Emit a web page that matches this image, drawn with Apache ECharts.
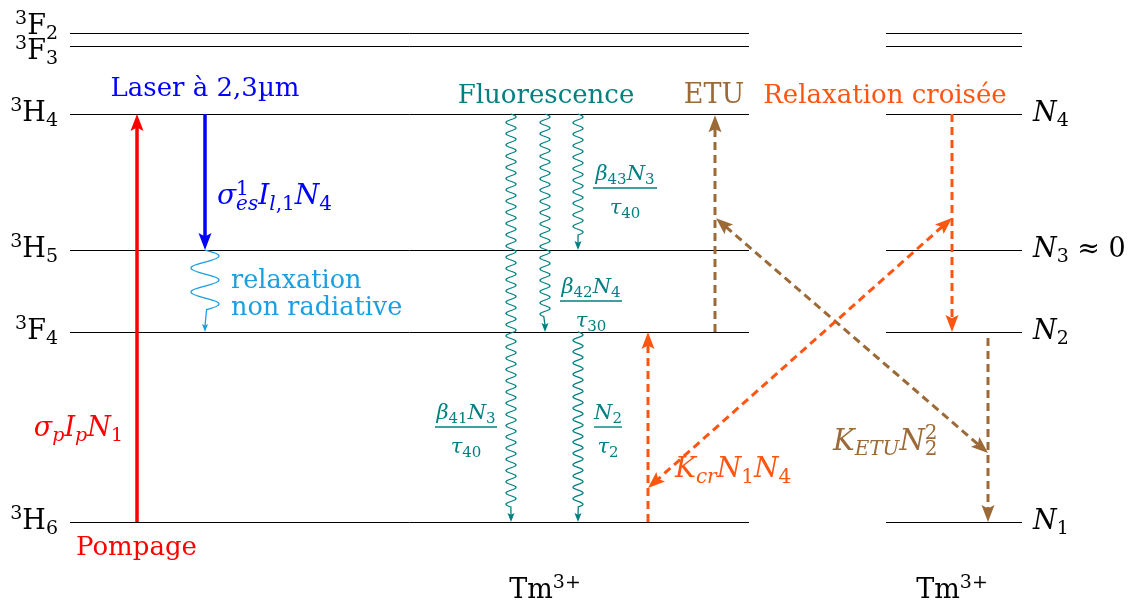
<!DOCTYPE html>
<html><head><meta charset="utf-8">
<script src="https://cdn.jsdelivr.net/npm/echarts@6/dist/echarts.min.js"></script>
<style>html,body{margin:0;padding:0;background:#fff}#c{width:1134px;height:603px}</style>
</head><body><div id="c"></div>
<script>
// ---- data (energies in cm^-1) ----
const levelNames  = ['3H6', '3F4', '3H5', '3H4', '3F3', '3F2'];
const levelEnergy = [0, 5870, 8400, 12600, 14700, 15100];
const populationNames = ['N1', 'N2', 'N3', 'N4'];
const populationEnergy = [0, 5870, 8400, 12600];
const ionName = 'Tm';
const ionCharge = '3+';

// transitions: [x, E_from, x, E_to]
const pumpArrow   = [[137, 0, 137, 12600]];
const laserArrow  = [[205, 12600, 205, 8400]];
const etuVertical = [[715, 5870, 715, 12560], [988, 5680, 988, 0]];
const etuDiagonal = [[716, 9380, 988, 2130]];
const crVertical  = [[648, 0, 648, 5870], [952, 12600, 952, 5870]];
const crDiagonal  = [[952, 9390, 648, 1050]];
// wavy transitions: [x, E_from, E_to]
const nonRadiative = [[205, 8400, 5870]];
const fluorescence = [[511, 12600, 0], [545, 12600, 5870], [578, 12600, 8400], [578, 5870, 0]];

// ---- layout ----
const panels = [[70, 749], [886, 1022]];
const levelLabelE = [0, 5870, 8400, 12600, 14515, 15287];
const SERIF = '"DejaVu Serif", serif';
const C = {red:'#ff0000', blue:'#0000ff', sky:'#1a9fe0', teal:'#008080', brown:'#9c6a37', orange:'#ff5511', black:'#000000'};

function richFor(fs, color, lh) {
  const b = {fontFamily: SERIF, color: color, textBorderWidth: 0, textBorderColor: 'transparent'};
  const s = Math.round(fs * 0.7);
  const L = lh || Math.round(fs * 1.25);
  return {
    r:  Object.assign({}, b, {fontSize: fs, lineHeight: L}),
    i:  Object.assign({}, b, {fontSize: fs, fontStyle: 'italic', lineHeight: L}),
    rs: Object.assign({}, b, {fontSize: s, verticalAlign: 'bottom', lineHeight: Math.round(fs * 0.63)}),
    is: Object.assign({}, b, {fontSize: s, fontStyle: 'italic', verticalAlign: 'bottom', lineHeight: Math.round(fs * 0.63)}),
    rp: Object.assign({}, b, {fontSize: s, verticalAlign: 'top', lineHeight: Math.round(fs * 0.59)}),
    rpz: Object.assign({}, b, {fontSize: s, verticalAlign: 'top', lineHeight: Math.round(fs * 0.59), width: 0.01})
  };
}

// annotation texts: [x, E, text, align, vAlign, fontSize, color, offsetY, lineHeight]
const texts = [];
levelNames.forEach((n, k) => texts.push([58, levelLabelE[k], `{rp|${n[0]}}{r|${n[1]}}{rs|${n[2]}}`, 'right', 'middle', 27, C.black]));
populationNames.forEach((n, k) => texts.push([1033, populationEnergy[k], `{i|${n[0]}}{rs|${n[1]}}` + (n === 'N3' ? '{r| ≈ 0}' : ''), 'left', 'middle', 27, C.black]));
texts.push(
  [205, 13372, '{r|Laser à 2,3µm}', 'center', 'middle', 26, C.blue],
  [546, 13156, '{r|Fluorescence}', 'center', 'middle', 26, C.teal],
  [714, 13156, '{r|ETU}', 'center', 'middle', 27, C.brown],
  [885, 13156, '{r|Relaxation croisée}', 'center', 'middle', 26, C.orange],
  [217, 10037, '{i|σ}{rpz|1}{is|es}{i|I}{is|l}{rs|,1}{i|N}{rs|4}', 'left', 'middle', 28, C.blue],
  [231, 7023, '{r|relaxation}\n{r|non radiative}', 'left', 'middle', 25.5, C.sky, 0, 27],
  [123, 2872, '{i|σ}{is|p}{i|I}{is|p}{i|N}{rs|1}', 'right', 'middle', 27, C.red],
  [76, -803, '{r|Pompage}', 'left', 'middle', 26, C.red],
  [675, 1606, '{i|K}{is|cr}{i|N}{rs|1}{i|N}{rs|4}', 'left', 'middle', 28, C.orange],
  [833, 2471, '{i|K}{is|ETU}{i|N}{rpz|2}{rs|2}', 'left', 'middle', 29, C.brown],
  [545, -2131, `{r|${ionName}}{rp|${ionCharge}}`, 'center', 'middle', 27, C.black],
  [952, -2131, `{r|${ionName}}{rp|${ionCharge}}`, 'center', 'middle', 27, C.black]
);
// fractions: [x1, x2, E_bar, numerator, denominator]
const fractions = [
  [593, 657, 10315, '{i|β}{rs|43}{i|N}{rs|3}', '{i|τ}{rs|40}'],
  [560, 622, 6825,  '{i|β}{rs|42}{i|N}{rs|4}', '{i|τ}{rs|30}'],
  [435, 497, 2934,  '{i|β}{rs|41}{i|N}{rs|3}', '{i|τ}{rs|40}'],
  [594, 622, 2934,  '{i|N}{rs|2}', '{i|τ}{rs|2}']
];
fractions.forEach(f => {
  const cx = (f[0] + f[1]) / 2;
  texts.push([cx, f[2], f[3], 'center', 'bottom', 21, C.teal, 0]);
  texts.push([cx, f[2], f[4], 'center', 'top', 21, C.teal, 8]);
});

// ---- drawing helpers ----
function unit(a, b) { const dx = b[0] - a[0], dy = b[1] - a[1], l = Math.hypot(dx, dy) || 1; return [dx / l, dy / l, l]; }
function headPoly(tip, u, len, wid) {
  const nx = -u[1], ny = u[0];
  const bx = tip[0] - u[0] * len, by = tip[1] - u[1] * len;
  const mx = tip[0] - u[0] * len * 0.8, my = tip[1] - u[1] * len * 0.8;
  return [[tip[0], tip[1]], [bx + nx * wid / 2, by + ny * wid / 2], [mx, my], [bx - nx * wid / 2, by - ny * wid / 2]];
}
function arrowSeries(data, st) {
  return {
    type: 'custom', coordinateSystem: 'cartesian2d', data: data, silent: true, z: 3,
    encode: {x: [0, 2], y: [1, 3]},
    renderItem: function (params, api) {
      const p1 = api.coord([api.value(0), api.value(1)]);
      const p2 = api.coord([api.value(2), api.value(3)]);
      const u = unit(p1, p2);
      const s = st.both ? [p1[0] + u[0] * st.len * 0.75, p1[1] + u[1] * st.len * 0.75] : p1;
      const e = [p2[0] - u[0] * st.len * 0.75, p2[1] - u[1] * st.len * 0.75];
      const ls = {stroke: st.color, lineWidth: st.width, fill: null};
      if (st.dash) ls.lineDash = st.dash;
      const ch = [{type: 'line', shape: {x1: s[0], y1: s[1], x2: e[0], y2: e[1]}, style: ls}];
      ch.push({type: 'polygon', shape: {points: headPoly(p2, u, st.len, st.wid)}, style: {fill: st.color}});
      if (st.both) ch.push({type: 'polygon', shape: {points: headPoly(p1, [-u[0], -u[1]], st.len, st.wid)}, style: {fill: st.color}});
      return {type: 'group', children: ch};
    }
  };
}
function waveSeries(data, st) {
  return {
    type: 'custom', coordinateSystem: 'cartesian2d', data: data, silent: true, z: 3,
    encode: {x: 0, y: [1, 2]},
    renderItem: function (params, api) {
      const p1 = api.coord([api.value(0), api.value(1)]);
      const p2 = api.coord([api.value(0), api.value(2)]);
      const total = p2[1] - p1[1];
      const waveLen = total - st.len - st.tail;
      const halves = Math.max(1, Math.round(2 * waveLen / st.period));
      const per = 2 * waveLen / halves;
      const pts = [];
      for (let t = 0; t <= waveLen + 0.01; t += 0.5) pts.push([p1[0] + st.amp * Math.sin(2 * Math.PI * t / per), p1[1] + t]);
      pts.push([p1[0], p2[1] - st.len * 0.75]);
      return {type: 'group', children: [
        {type: 'polyline', shape: {points: pts}, style: {stroke: st.color, lineWidth: st.width, fill: null}},
        {type: 'polygon', shape: {points: headPoly(p2, [0, 1], st.len, st.wid)}, style: {fill: st.color}}
      ]};
    }
  };
}

// level lines
const levelRows = [];
panels.forEach(p => levelEnergy.forEach(E => levelRows.push([p[0], p[1], E])));
const levelSeries = {
  type: 'custom', coordinateSystem: 'cartesian2d', data: levelRows, silent: true, z: 1,
  encode: {x: [0, 1], y: 2},
  renderItem: function (params, api) {
    const a = api.coord([api.value(0), api.value(2)]);
    const b = api.coord([api.value(1), api.value(2)]);
    const y = Math.round(a[1]) + 0.5;
    return {type: 'line', shape: {x1: a[0], y1: y, x2: b[0], y2: y}, style: {stroke: '#000', lineWidth: 1}};
  }
};
const barSeries = {
  type: 'custom', coordinateSystem: 'cartesian2d', data: fractions.map(f => [f[0], f[1], f[2]]), silent: true, z: 2,
  encode: {x: [0, 1], y: 2},
  renderItem: function (params, api) {
    const a = api.coord([api.value(0), api.value(2)]);
    const b = api.coord([api.value(1), api.value(2)]);
    return {type: 'line', shape: {x1: a[0], y1: a[1], x2: b[0], y2: a[1]}, style: {stroke: C.teal, lineWidth: 1.4}};
  }
};
const textSeries = {
  type: 'scatter', symbolSize: 0, silent: true, z: 5, clip: false,
  itemStyle: {color: 'rgba(0,0,0,0)'},
  data: texts.map(t => ({
    value: [t[0], t[1]],
    label: {
      show: true, position: [0, 0], formatter: t[2], align: t[3], verticalAlign: t[4],
      offset: [0, t[7] || 0],
      rich: richFor(t[5], t[6], t[8]), color: t[6], fontFamily: SERIF, fontSize: t[5],
      textBorderWidth: 0, textBorderColor: 'transparent', opacity: 1
    }
  }))
};

const dash = [8, 5];
const option = {
  animation: false,
  backgroundColor: '#ffffff',
  grid: {left: 0, right: 0, top: 0, bottom: 0},
  xAxis: {type: 'value', min: 0, max: 1134, show: false},
  yAxis: {type: 'value', min: -2500, max: 16120, show: false},
  series: [
    levelSeries,
    barSeries,
    arrowSeries(pumpArrow, {color: C.red, width: 3.5, len: 17, wid: 13}),
    arrowSeries(laserArrow, {color: C.blue, width: 3.5, len: 17, wid: 13}),
    arrowSeries(etuVertical, {color: C.brown, width: 3, dash: dash, len: 17, wid: 13}),
    arrowSeries(etuDiagonal, {color: C.brown, width: 3, dash: dash, len: 17, wid: 13, both: true}),
    arrowSeries(crVertical, {color: C.orange, width: 3, dash: dash, len: 17, wid: 13}),
    arrowSeries(crDiagonal, {color: C.orange, width: 3, dash: dash, len: 17, wid: 13, both: true}),
    waveSeries(nonRadiative, {color: C.sky, width: 1.3, amp: 14, period: 26, len: 8, wid: 6, tail: 14}),
    waveSeries(fluorescence, {color: C.teal, width: 1.3, amp: 5, period: 11.3, len: 9, wid: 7, tail: 6}),
    textSeries
  ]
};
const chart = echarts.init(document.getElementById('c'), null, {renderer: 'canvas'});
chart.setOption(option);
</script>
</body></html>
